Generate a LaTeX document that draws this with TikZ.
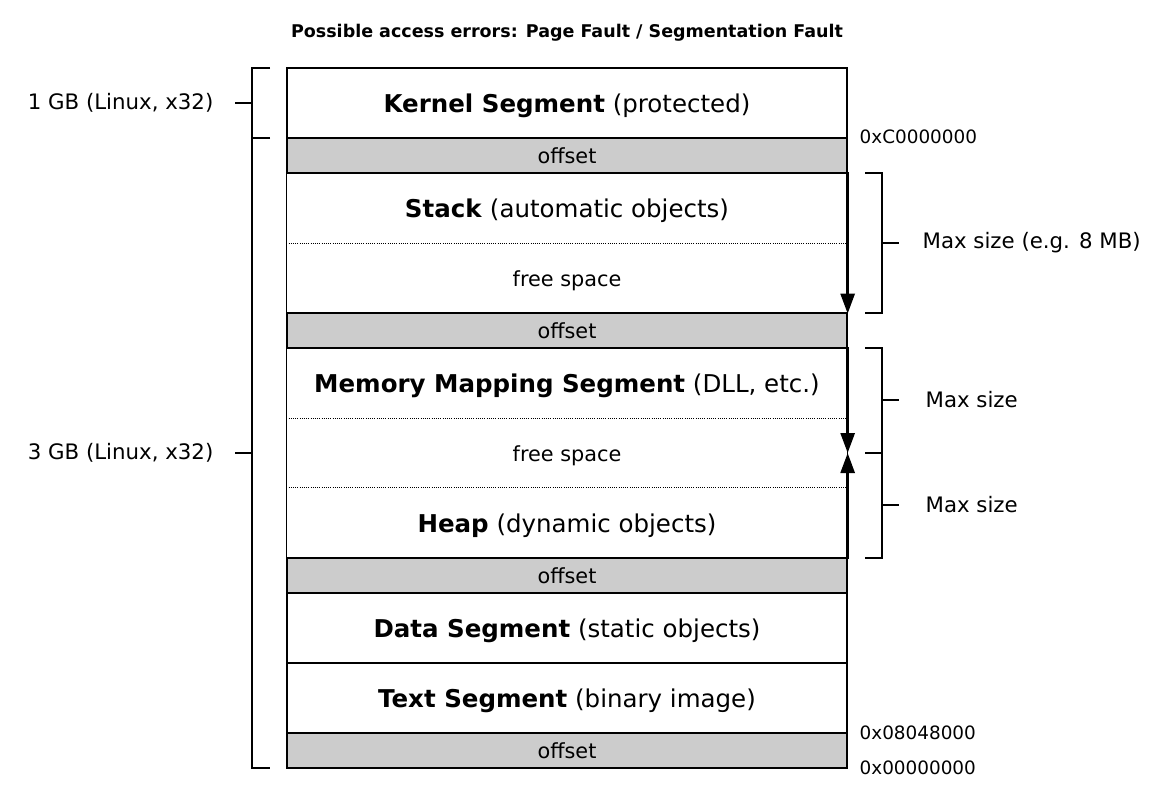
\documentclass[tikz,border=0pt]{standalone}
\usepackage{fontspec}
\setmainfont{DejaVu Sans}
\usetikzlibrary{arrows.meta,calc}
\definecolor{offgray}{HTML}{CCCCCC}
\begin{document}
\begin{tikzpicture}[x=1pt,y=-1pt,
  line width=1.3pt,
  seg/.style={minimum width=560pt, minimum height=70pt, inner sep=0pt, text height=19pt, text depth=1pt, font=\fontsize{24.5}{28}\selectfont},
  segbox/.style={seg, draw},
  freelab/.style={font=\fontsize{20.8}{24}\selectfont, text height=17pt, text depth=0pt},
  offbox/.style={draw, fill=offgray, minimum width=560pt, minimum height=35pt, inner sep=0pt, font=\fontsize{20.8}{24}\selectfont},
  lab/.style={font=\fontsize{21.3}{24}\selectfont, inner sep=0pt},
  addr/.style={font=\fontsize{18.4}{22}\selectfont, inner sep=0pt},
  titlelab/.style={font=\bfseries\fontsize{17.5}{20}\selectfont, inner sep=0pt},
  growarrow/.style={line width=2.7pt, -{Triangle[length=20pt,width=14pt]}},
  dotsep/.style={line width=1pt, dash pattern=on 1pt off 1.2pt},
  brk/.style={line width=1.4pt}
]
\useasboundingbox (0,0) rectangle (1161,800);

\node[titlelab] (title) at (567,33) {Possible access errors: Page Fault / Segmentation Fault};

% segments
\node[segbox] (kernel) at (567,103) {\textbf{Kernel Segment} (protected)};
\node[offbox] (off1) at (567,155.5) {offset};
\node[seg] (stack) at (567,208) {\textbf{Stack} (automatic objects)};
\node[seg,freelab] (free1) at (567,278) {free space};
\node[offbox] (off2) at (567,330.5) {offset};
\node[seg] (mms) at (567,383) {\textbf{Memory Mapping Segment} (DLL, etc.)};
\node[seg,freelab] (free2) at (567,453) {free space};
\node[seg] (heap) at (567,523) {\textbf{Heap} (dynamic objects)};
\node[offbox] (off3) at (567,575.5) {offset};
\node[segbox] (data) at (567,628) {\textbf{Data Segment} (static objects)};
\node[segbox] (text) at (567,698) {\textbf{Text Segment} (binary image)};
\node[offbox] (off4) at (567,750.5) {offset};

% group outlines
\draw (stack.north west) rectangle (free1.south east);
\draw (mms.north west) rectangle (heap.south east);
\draw[dotsep] (stack.south west) -- (stack.south east);
\draw[dotsep] (mms.south west) -- (mms.south east);
\draw[dotsep] (heap.north west) -- (heap.north east);

% growth arrows
\draw[growarrow] (stack.north east) -- (free1.south east);
\draw[growarrow] (mms.north east) -- (free2.east);
\draw[growarrow] (heap.south east) -- (free2.east);

% left brackets
\node[lab, anchor=east] (gb1) at (214,103) {1 GB (Linux, x32)};
\node[lab, anchor=east] (gb3) at (214,453) {3 GB (Linux, x32)};
\coordinate (b1t) at (270,68);
\coordinate (b1b) at (270,138);
\coordinate (b3t) at (270,138);
\coordinate (b3b) at (270,768);
\draw[brk] (b1t) -- ++(-18,0) -- ($(b1b)+(-18,0)$) -- (b1b);
\draw[brk] (b3t) -- ++(-18,0) -- ($(b3b)+(-18,0)$) -- (b3b);
\draw[brk] (235,103) -- (252,103);
\draw[brk] (235,453) -- (252,453);

% right brackets
\draw[brk] (865,173) -- (882,173) -- (882,313) -- (865,313);
\draw[brk] (882,243) -- (899,243);
\draw[brk] (865,348) -- (882,348) -- (882,558) -- (865,558);
\draw[brk] (865,453) -- (882,453);
\draw[brk] (882,400) -- (899,400);
\draw[brk] (882,505) -- (899,505);
\node[lab, anchor=west] (ms1) at (922,243) {Max size (e.g. 8 MB)};
\node[lab, anchor=west] (ms2) at (925,400) {Max size};
\node[lab, anchor=west] (ms3) at (925,505) {Max size};

% addresses
\node[addr, anchor=west] (a1) at (859,137) {0xC0000000};
\node[addr, anchor=west] (a2) at (859,733) {0x08048000};
\node[addr, anchor=west] (a3) at (859,768) {0x00000000};
\end{tikzpicture}
\end{document}
